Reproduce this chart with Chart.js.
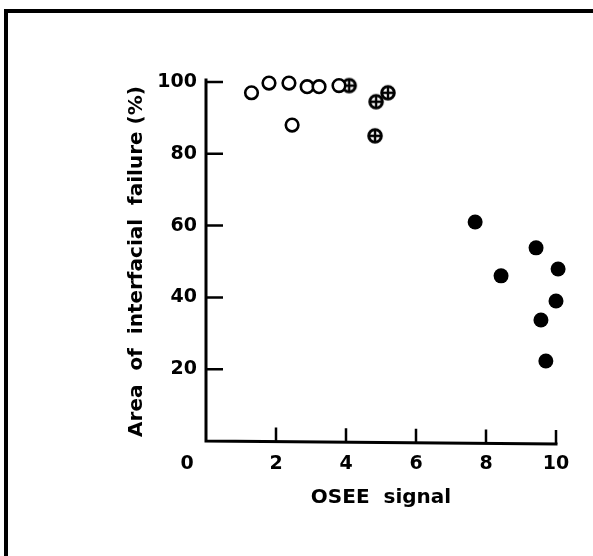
<!DOCTYPE html>
<html>
<head>
<meta charset="utf-8">
<script src="https://cdn.jsdelivr.net/npm/chart.js@4"></script>
<style>
html,body{margin:0;padding:0;background:#fff;}
#wrap{width:593px;height:556px;}
</style>
</head>
<body>
<div id="wrap"><canvas id="c" width="593" height="556"></canvas></div>
<script>
// ---- data ----
const openX    = [1.3, 1.8, 2.37, 2.46, 2.89, 3.23, 3.8];
const openY    = [97.0, 99.7, 99.7, 88.0, 98.7, 98.7, 99.0];
const hatchX   = [4.09, 4.86, 5.2, 4.83];
const hatchY   = [99.0, 94.5, 97.0, 85.0];
const filledX  = [7.69, 8.43, 9.43, 10.06, 10.0, 9.57, 9.71];
const filledY  = [61.0, 46.0, 53.8, 47.9, 39.0, 33.7, 22.3];
const xTicks   = [0, 2, 4, 6, 8, 10];
const yTicks   = [0, 20, 40, 60, 80, 100];
const xTitle   = 'OSEE  signal';
const yTitle   = 'Area  of  interfacial  failure (%)';
const originLabel = '0';

const toPts = (xs, ys) => xs.map((x, i) => ({x: x, y: ys[i]}));

// hatched marker: dark circle with a cross inside
function makeHatched(){
  const s = 18, c = document.createElement('canvas');
  c.width = s; c.height = s;
  const g = c.getContext('2d');
  g.fillStyle = '#fff';
  g.strokeStyle = '#000';
  g.lineWidth = 3;
  g.beginPath(); g.arc(9, 9, 6.3, 0, Math.PI*2); g.fill(); g.stroke();
  g.lineWidth = 2.4;
  g.beginPath();
  g.moveTo(3.5, 9); g.lineTo(14.5, 9);
  g.moveTo(9, 3.5); g.lineTo(9, 14.5);
  g.stroke();
  return c;
}

const FONT = "'DejaVu Sans', sans-serif";

const axesPlugin = {
  id: 'axesPlugin',
  afterDraw(chart){
    const ctx = chart.ctx, xs = chart.scales.x, ys = chart.scales.y;
    const x0 = xs.getPixelForValue(0), x1 = xs.getPixelForValue(10);
    const y0 = ys.getPixelForValue(0), y1 = ys.getPixelForValue(100);
    ctx.save();
    ctx.strokeStyle = '#000';
    ctx.lineWidth = 3;
    ctx.lineCap = 'square';
    ctx.beginPath();
    ctx.moveTo(x0, y1 - 2); ctx.lineTo(x0, y0); ctx.lineTo(x1, y0 + 3);
    ctx.stroke();
    ctx.lineWidth = 2.5;
    ctx.lineCap = 'butt';
    ctx.beginPath();
    yTicks.filter(v => v > 0).forEach(v => {
      const p = ys.getPixelForValue(v);
      ctx.moveTo(x0, p); ctx.lineTo(x0 + 17, p);
    });
    xTicks.filter(v => v > 0).forEach(v => {
      const p = xs.getPixelForValue(v);
      const yb = y0 + 3 * v / 10;
      ctx.moveTo(p, yb); ctx.lineTo(p, yb - 14);
    });
    ctx.stroke();
    // origin label
    ctx.fillStyle = '#000';
    ctx.font = 'bold 19px ' + FONT;
    ctx.textAlign = 'center';
    ctx.textBaseline = 'middle';
    ctx.fillText(originLabel, x0 - 19, y0 + 23);
    // frame lines
    ctx.fillRect(4, 9, 589, 4);
    ctx.fillRect(4, 9, 4, 547);
    ctx.restore();
  }
};

new Chart(document.getElementById('c'), {
  type: 'scatter',
  data: {
    datasets: [
      { label: 'open', data: toPts(openX, openY), pointStyle: 'circle', pointRadius: 6.3,
        pointBorderWidth: 2.6, pointBackgroundColor: '#fff', pointBorderColor: '#000', clip: false },
      { label: 'hatched', data: toPts(hatchX, hatchY), pointStyle: makeHatched(), pointRadius: 9, clip: false },
      { label: 'filled', data: toPts(filledX, filledY), pointStyle: 'circle', pointRadius: 7.5,
        pointBorderWidth: 0, pointBackgroundColor: '#000', pointBorderColor: '#000', clip: false }
    ]
  },
  options: {
    responsive: false,
    animation: false,
    events: [],
    layout: { padding: { left: 121, right: 37, top: 82, bottom: 46 } },
    plugins: { legend: { display: false }, tooltip: { enabled: false } },
    scales: {
      x: {
        type: 'linear', min: 0, max: 10,
        afterBuildTicks(s){ s.ticks = xTicks.map(v => ({value: v})); },
        afterFit(s){ s.height = 69; },
        border: { display: false },
        grid: { display: false, drawTicks: false },
        ticks: { color: '#000', padding: 12, maxRotation: 0,
          font: { family: FONT, size: 19, weight: 'bold' },
          callback: v => (v === 0 ? '' : String(v)) },
        title: { display: true, text: xTitle, color: '#000', padding: { top: 6, bottom: 0 },
          font: { family: FONT, size: 20, weight: 'bold' } }
      },
      y: {
        type: 'linear', min: 0, max: 100,
        afterBuildTicks(s){ s.ticks = yTicks.map(v => ({value: v})); },
        afterFit(s){ s.width = 85; },
        border: { display: false },
        grid: { display: false, drawTicks: false },
        ticks: { color: '#000', padding: 9,
          font: { family: FONT, size: 19, weight: 'bold' },
          callback: v => (v === 0 ? '' : String(v)) },
        title: { display: true, text: yTitle, color: '#000', padding: { top: 4, bottom: 4 },
          font: { family: FONT, size: 20, weight: 'bold' } }
      }
    }
  },
  plugins: [axesPlugin]
});
</script>
</body>
</html>
